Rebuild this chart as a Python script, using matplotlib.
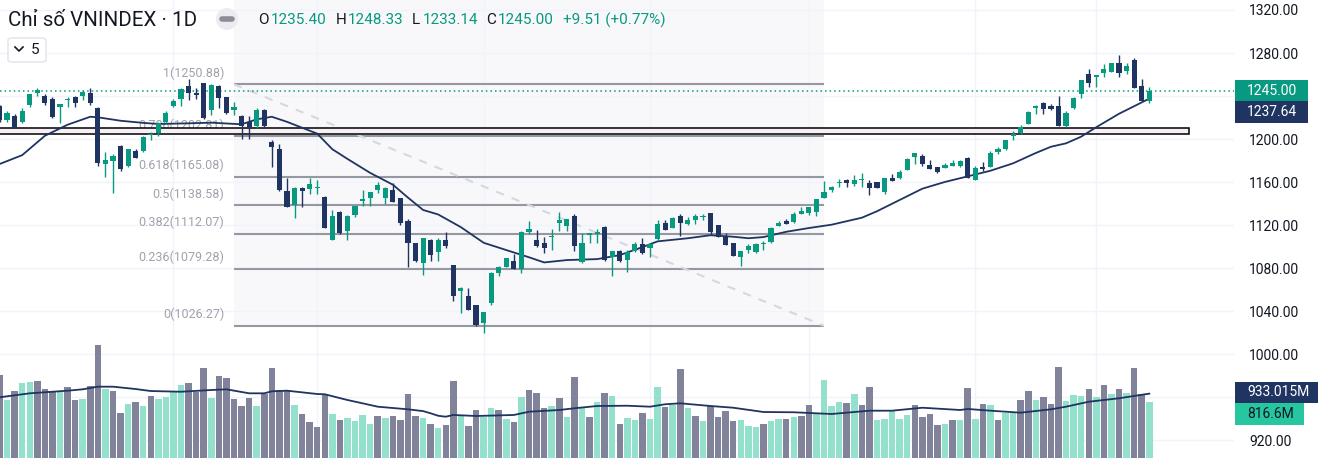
import matplotlib.pyplot as plt
from matplotlib.patches import Rectangle, FancyBboxPatch, Ellipse

plt.rcParams['font.family'] = ['Roboto', 'DejaVu Sans']

# daily candles of VNINDEX
opens = [1231, 1218, 1221, 1216, 1232, 1242.5, 1240.3, 1237, 1229.5, 1236.5,
         1239.3, 1240.3, 1243, 1228.5, 1176.7, 1179.8, 1193.5, 1174.9, 1188.8, 1189,
         1204, 1205.3, 1216, 1230.7, 1237, 1249.3, 1242.5, 1251.8, 1227, 1249.3,
         1238.8, 1227, 1221.4, 1216, 1212, 1227, 1197.5, 1190.7, 1151.6, 1138.6,
         1154.7, 1153.5, 1154.7, 1146.3, 1106, 1131.8, 1114.4, 1129.3, 1142.6, 1145.4,
         1152.2, 1145, 1152.6, 1144.8, 1123.7, 1103, 1085, 1106, 1095, 1106,
         1082.8, 1059, 1054.2, 1045.6, 1028.6, 1047.2, 1075.7, 1081.3, 1086.5, 1078.8,
         1113.2, 1106, 1103, 1108.5, 1122.2, 1119.3, 1128.4, 1085.3, 1110.7, 1111.3,
         1118.4, 1090.5, 1095.8, 1087.4, 1095.8, 1102, 1098.3, 1107.2, 1122.2, 1117.5,
         1128.7, 1120.6, 1124.7, 1127.4, 1130.9, 1120, 1110, 1103.5, 1090.5, 1096.7,
         1094.7, 1102.5, 1103.9, 1119, 1123.7, 1122.5, 1130.5, 1131, 1132, 1145.3,
         1152.6, 1159.3, 1161.9, 1158.1, 1162.3, 1159.3, 1160.3, 1150.9, 1163.4, 1163.4,
         1171.2, 1183.5, 1184.2, 1175.8, 1173.7, 1173.3, 1175.1, 1174.9, 1182.6, 1161.9,
         1174.3, 1174.3, 1187.6, 1190.4, 1203.2, 1205.3, 1213.7, 1228.6, 1233.2, 1230.7,
         1230.7, 1212.1, 1228.6, 1241.6, 1260.5, 1258, 1261.1, 1262.6, 1270.4, 1263.6,
         1273.5, 1249.3, 1235.4]
highs = [1232, 1226, 1223, 1229, 1242, 1247, 1242, 1239, 1233, 1239.3,
         1240, 1246, 1247, 1229.5, 1188, 1186, 1194, 1191, 1191, 1203,
         1206.5, 1216, 1226, 1237, 1247, 1255.5, 1247, 1252.5, 1251, 1250,
         1239.5, 1234, 1222, 1221.4, 1228.8, 1228, 1199, 1195, 1163.4, 1155,
         1155, 1164.2, 1161.9, 1147, 1134, 1133, 1129.3, 1138, 1152.2, 1151,
         1160, 1155.3, 1159, 1145, 1126, 1103.5, 1108, 1107, 1107.6, 1113.6,
         1083, 1062, 1061, 1046, 1039.5, 1076, 1082, 1089.5, 1093, 1114.5,
         1124, 1115.7, 1108.5, 1116, 1132, 1126, 1130, 1112.3, 1113, 1116,
         1119, 1096, 1097, 1097, 1104, 1107.6, 1103, 1124.7, 1124.3, 1127,
         1130.5, 1127.7, 1130, 1130.5, 1131, 1120, 1113, 1103.5, 1096, 1102,
         1103.5, 1105, 1118.5, 1123.5, 1126, 1132, 1136.4, 1137, 1144.2, 1161,
         1156.3, 1162.8, 1162.8, 1166.5, 1168.4, 1162, 1160.3, 1163.4, 1167.6, 1171,
         1182, 1186.7, 1186, 1180.5, 1173.7, 1177.4, 1180.5, 1180.5, 1183.5, 1175,
         1178.6, 1188.8, 1192.5, 1199.5, 1207.7, 1213, 1226, 1231.6, 1234.7, 1233,
         1240, 1226.2, 1239.5, 1255, 1264.8, 1259.5, 1269.8, 1271, 1278.1, 1270.7,
         1275, 1255.5, 1248.33]
lows = [1216, 1216, 1210, 1215, 1230, 1240, 1232, 1220, 1214.6, 1230,
        1230, 1236, 1232, 1175, 1165, 1149.5, 1170, 1174, 1182, 1188,
        1199, 1203, 1215, 1229.6, 1231, 1236.7, 1237, 1218.4, 1222.8, 1229,
        1223, 1222, 1200, 1200, 1210, 1211.5, 1173.9, 1152, 1137, 1126.8,
        1137, 1149, 1149, 1117, 1106, 1112, 1106.4, 1127.7, 1137.8, 1137.8,
        1150, 1140, 1141, 1120, 1080.5, 1086, 1073.5, 1086.8, 1086.5, 1098.6,
        1049.6, 1038, 1040.5, 1026.3, 1019.8, 1046, 1072.3, 1081, 1079, 1075.7,
        1112, 1100, 1094.2, 1097.2, 1114.8, 1114.8, 1095.8, 1085, 1103, 1103,
        1087, 1072.5, 1085.6, 1076.7, 1095, 1093, 1090, 1106, 1115, 1117,
        1110, 1120, 1120.6, 1125, 1112, 1109, 1101, 1091, 1081.9, 1094,
        1094, 1097, 1103.5, 1119, 1120.9, 1122, 1130, 1129.3, 1128.8, 1144.7,
        1150.7, 1155.3, 1155.3, 1156.7, 1155.3, 1147.9, 1154, 1148.4, 1161, 1163,
        1171, 1176.4, 1174.5, 1172, 1168.6, 1173, 1175, 1174, 1164, 1161.9,
        1169.9, 1174, 1186, 1190, 1198.8, 1205, 1213.7, 1223.2, 1223.5, 1226.7,
        1212, 1211.2, 1228, 1237.7, 1248.4, 1248.4, 1258, 1262, 1258, 1260.6,
        1247.7, 1235.4, 1233.14]
closes = [1218, 1224, 1210.5, 1226, 1241.6, 1245.6, 1233.2, 1220.7, 1232.3, 1237,
          1233.2, 1244, 1233.8, 1177.4, 1180.5, 1184.2, 1171.8, 1190.4, 1182.6, 1202,
          1205, 1214.6, 1224.5, 1235.6, 1246.5, 1242.5, 1241, 1219.3, 1250.2, 1238.4,
          1223.9, 1230, 1212, 1211.4, 1227, 1212, 1192.8, 1152.6, 1137, 1154.7,
          1151.9, 1158, 1155.5, 1117.5, 1128.4, 1112.8, 1128.4, 1137.7, 1144, 1150.7,
          1156.9, 1154.7, 1141.1, 1121.6, 1103, 1086.8, 1107.6, 1092, 1106, 1100.5,
          1054.2, 1061, 1041, 1027, 1038.9, 1075.7, 1081.3, 1089, 1079, 1113.2,
          1116.3, 1100.7, 1099, 1110, 1124.7, 1125.6, 1100.5, 1103.5, 1112.8, 1113.7,
          1087.4, 1095.8, 1086.5, 1095.2, 1102.3, 1093.7, 1102, 1121.4, 1115.3, 1126.8,
          1121.6, 1124.7, 1128.7, 1127.8, 1113.8, 1109, 1101.4, 1091, 1096, 1100.5,
          1102.5, 1103, 1117.5, 1122.2, 1120.9, 1130.2, 1132.8, 1136.4, 1144.2, 1150.9,
          1155.7, 1160, 1158.8, 1161.9, 1162.8, 1154.1, 1154.1, 1163.4, 1161.2, 1169.6,
          1181.4, 1186.7, 1176.7, 1172.1, 1169.6, 1175.8, 1178, 1179.5, 1164, 1172.8,
          1172.1, 1186.7, 1190.7, 1199, 1204.2, 1210.9, 1225.4, 1231, 1227.9, 1227.6,
          1212.1, 1224.5, 1237.9, 1254.9, 1252.4, 1259.5, 1265.1, 1270.3, 1261.7, 1268.3,
          1247.7, 1235.4, 1245.0]

# volume in millions and its bar colour (u = green, d = grey)
volumes = [1204, 841, 972, 1088, 1102, 1117, 1000, 961, 961, 1030,
           841, 855, 1044, 1638, 1000, 972, 652, 783, 812, 754,
           899, 855, 884, 957, 1058, 1088, 957, 1305, 870, 1189,
           1160, 855, 754, 870, 754, 928, 1305, 986, 986, 768,
           638, 522, 450, 914, 638, 551, 580, 537, 624, 493,
           609, 580, 609, 551, 928, 609, 580, 493, 435, 478,
           1117, 624, 464, 696, 595, 725, 696, 566, 522, 884,
           986, 942, 725, 754, 870, 595, 1174, 725, 595, 812,
           942, 899, 493, 580, 551, 652, 566, 1030, 740, 768,
           1290, 725, 609, 537, 754, 595, 682, 537, 551, 464,
           450, 493, 537, 566, 566, 595, 609, 768, 638, 1131,
           754, 812, 797, 928, 768, 1030, 551, 566, 682, 566,
           624, 768, 595, 638, 478, 493, 551, 551, 1015, 566,
           783, 768, 551, 652, 667, 841, 972, 841, 884, 783,
           1320, 827, 914, 899, 1000, 884, 1058, 928, 1000, 942,
           1305, 928, 816.6]
vol_dirs = ("duduudddud" "dudduddudu" "duuuudddud" "dddduddddu" "dddduduuuu"
            "duddddudud" "dudduududu" "dddudududu" "duduuduudu" "dududddduu"
            "uduududduu" "uududduuuu" "uddddududu" "duduuddudd" "duuudududu"
            "ddu")

# moving averages as drawn on the chart (candle index, value)
ma_idx = [0, 3, 6, 9, 12, 13, 16, 19, 21, 25, 28, 32, 34, 36, 38, 42, 44, 46, 49, 52,
          54, 56, 58, 61, 64, 67, 70, 72, 75, 79, 82, 85, 87, 91, 94, 97, 99, 101, 104, 107,
          110, 114, 116, 119, 122, 125, 129, 131, 134, 137, 139, 141, 143, 145, 148, 150, 152]
ma_val = [1176.7, 1185, 1203, 1213.3, 1220.7, 1220.2, 1217, 1215, 1214, 1214.6,
          1215.2, 1213.7, 1218.3, 1220.7, 1216, 1205, 1190.5, 1181.5, 1168.5, 1157.5,
          1145.5, 1134, 1129.8, 1118, 1103.5, 1096.7, 1090, 1085.2, 1087.4, 1088.3,
          1092, 1099.5, 1104.8, 1107.7, 1110.5, 1109.1, 1107.7, 1108.8, 1113.7, 1117.2,
          1120.3, 1126.8, 1132.8, 1143.3, 1153.8, 1160.1, 1167, 1170.5, 1177.4, 1187,
          1192.8, 1196, 1202.2, 1211, 1223.5, 1230.5, 1237.64]
vma_idx = [0, 4, 9, 11, 13, 15, 18, 20, 24, 28, 30, 33, 35, 36, 38, 42, 43, 46, 48, 50,
           54, 56, 57, 58, 59, 60, 63, 68, 70, 74, 76, 79, 83, 86, 88, 90, 94, 97, 101, 105,
           108, 110, 115, 118, 122, 127, 128, 131, 135, 139, 141, 144, 148, 152]
vma_val = [880, 938, 976, 996, 1034, 1034, 1000, 971, 961, 986, 996, 938, 938, 967, 976,
           928, 924, 841, 793, 744, 706, 680, 648, 612, 599, 624, 609, 624, 671, 696,
           721, 754, 758, 744, 779, 793, 754, 729, 667, 663, 648, 638, 686, 686, 729,
           696, 711, 686, 657, 706, 744, 816, 866, 933.015]

month_starts = [23, 42, 64, 86, 107, 129, 145]
price_ticks = [920, 960, 1000, 1040, 1080, 1120, 1160, 1200, 1240, 1280, 1320]
hidden_ticks = [960, 1240]  # covered by the value tags on the axis

# fibonacci retracement drawing
fib_high, fib_low = 1250.88, 1026.27
fib_start, fib_end = 31, 109
fib_levels = [1, 0.786, 0.618, 0.5, 0.382, 0.236, 0]
fib_names = ["1", "0.786", "0.618", "0.5", "0.382", "0.236", "0"]

# support zone rectangle
zone_low, zone_high, zone_end = 1204.9, 1210.0, 157.2

up_c = "#089981"
down_c = "#1f3461"
txt_c = "#131722"
W, H = 1321, 458
plot_w = 1234

fig = plt.figure(figsize=(W / 100, H / 100), dpi=100)
ax = fig.add_axes([0, 0, plot_w / W, 1])
ax.set_xlim(0.066, 163.2)
ax.set_ylim(903.3, 1329.3)
vax = ax.twinx()
vax.set_ylim(0, 6641)

for a in (ax, vax):
    for s in a.spines.values():
        s.set_visible(False)

ax.set_xticks(month_starts)
ax.tick_params(axis="x", length=0, labelbottom=False)
ax.yaxis.tick_right()
ax.set_yticks(price_ticks)
ax.set_yticklabels(["" if t in hidden_ticks else "%.2f" % t for t in price_ticks])
ax.tick_params(axis="y", length=0, pad=11, labelsize=10, labelcolor=txt_c)
ax.grid(color="#f0f3fa", lw=1)
ax.set_axisbelow(True)
vax.set_yticks([])

idx = list(range(len(closes)))

# fib box
ax.fill_between([fib_start, fib_end], fib_low, 1329.3, color="#f8f8fa", lw=0, zorder=0.5)
for lvl, name in zip(fib_levels, fib_names):
    p = fib_low + lvl * (fib_high - fib_low)
    ax.hlines(p, fib_start, fib_end, color="#9598a1", lw=1.5, zorder=1)
    ax.annotate("%s(%.2f)" % (name, p), xy=(fib_start - 1.3, p), xytext=(0, 8),
                textcoords="offset points", ha="right", va="center",
                fontsize=9, color="#a0a3ab", zorder=1)
ax.plot([fib_start, fib_end], [fib_high, fib_low], color="#d6d8de", lw=1.5,
        dashes=(4, 4), zorder=1)

# zone and last price line
ax.add_patch(Rectangle((-5, zone_low), zone_end + 5, zone_high - zone_low,
                       fc="#f6eff5", ec="black", lw=1.1, zorder=1.5))
ax.axhline(closes[-1], color=up_c, lw=1.1, ls=(0, (1, 2)), zorder=1.6)

# volume
vcols = ["#93e0cc" if d == "u" else "#81839a" for d in vol_dirs]
vax.bar(idx, volumes, width=0.86, color=vcols, zorder=1)
vax.plot(vma_idx, vma_val, color=down_c, lw=1.3, zorder=2)

# candles
cols = [up_c if c >= o else down_c for o, c in zip(opens, closes)]
ax.vlines(idx, lows, highs, colors=cols, lw=1.0, zorder=3)
bottoms = [min(o, c) for o, c in zip(opens, closes)]
heights = [max(abs(c - o), 0.9) for o, c in zip(opens, closes)]
ax.bar(idx, heights, bottom=bottoms, width=0.68, color=cols, zorder=3)
ax.plot(ma_idx, ma_val, color=down_c, lw=1.3, zorder=2.5)


def tag(axis, center, half, text, fc, tc, right_px):
    tr = axis.get_yaxis_transform()
    axis.add_patch(FancyBboxPatch((1235 / plot_w, center - half), (right_px - 1235) / plot_w,
                                  2 * half, boxstyle="square,pad=0", transform=tr,
                                  fc=fc, ec="none", clip_on=False, zorder=5))
    axis.text(1247 / plot_w, center, text, transform=tr, ha="left", va="center",
              color=tc, fontsize=10, clip_on=False, zorder=6)


tag(ax, closes[-1], 10, "%.2f" % closes[-1], up_c, "white", 1308)
tag(ax, closes[-1] - 20, 10, "%.2f" % ma_val[-1], down_c, "white", 1308)
tag(vax, vma_val[-1] + 20, 156, "%.3fM" % vma_val[-1], down_c, "white", 1318)
tag(vax, vma_val[-1] - 292, 156, "%.1fM" % volumes[-1], "#26c6a0", txt_c, 1304)


# header (pixel positions)
def fx(x):
    return x / W


def fy(y):
    return 1 - y / H


fig.text(fx(8), fy(20), "Chỉ số VNINDEX · 1D", fontsize=14.8, color=txt_c, va="center")
fig.add_artist(Ellipse((fx(227), fy(19)), 22 / W, 22 / H, transform=fig.transFigure,
                       fc="#ececf0", ec="none"))
fig.add_artist(plt.Line2D([fx(222), fx(232)], [fy(19), fy(19)], transform=fig.transFigure,
                          color="#8a8d96", lw=4, solid_capstyle="round"))
parts = [(258, "O", txt_c), (271, "1235.40", up_c), (336, "H", txt_c), (348, "1248.33", up_c),
         (412, "L", txt_c), (423, "1233.14", up_c), (486, "C", txt_c), (498, "1245.00", up_c),
         (563, "+9.51 (+0.77%)", up_c)]
for x, s, c in parts:
    fig.text(fx(x), fy(20), s, fontsize=11, color=c, va="center")

fig.add_artist(FancyBboxPatch((fx(8), fy(62)), fx(38), 24 / H, transform=fig.transFigure,
                              boxstyle="round,pad=0,rounding_size=0.004",
                              fc="white", ec="#e0e3eb", lw=1))
fig.add_artist(plt.Line2D([fx(15), fx(19), fx(23)], [fy(47), fy(51), fy(47)],
                          transform=fig.transFigure, color=txt_c, lw=1.2))
fig.text(fx(31), fy(50), "5", fontsize=11, color=txt_c, va="center")

fig.savefig("out.png", dpi=100)
